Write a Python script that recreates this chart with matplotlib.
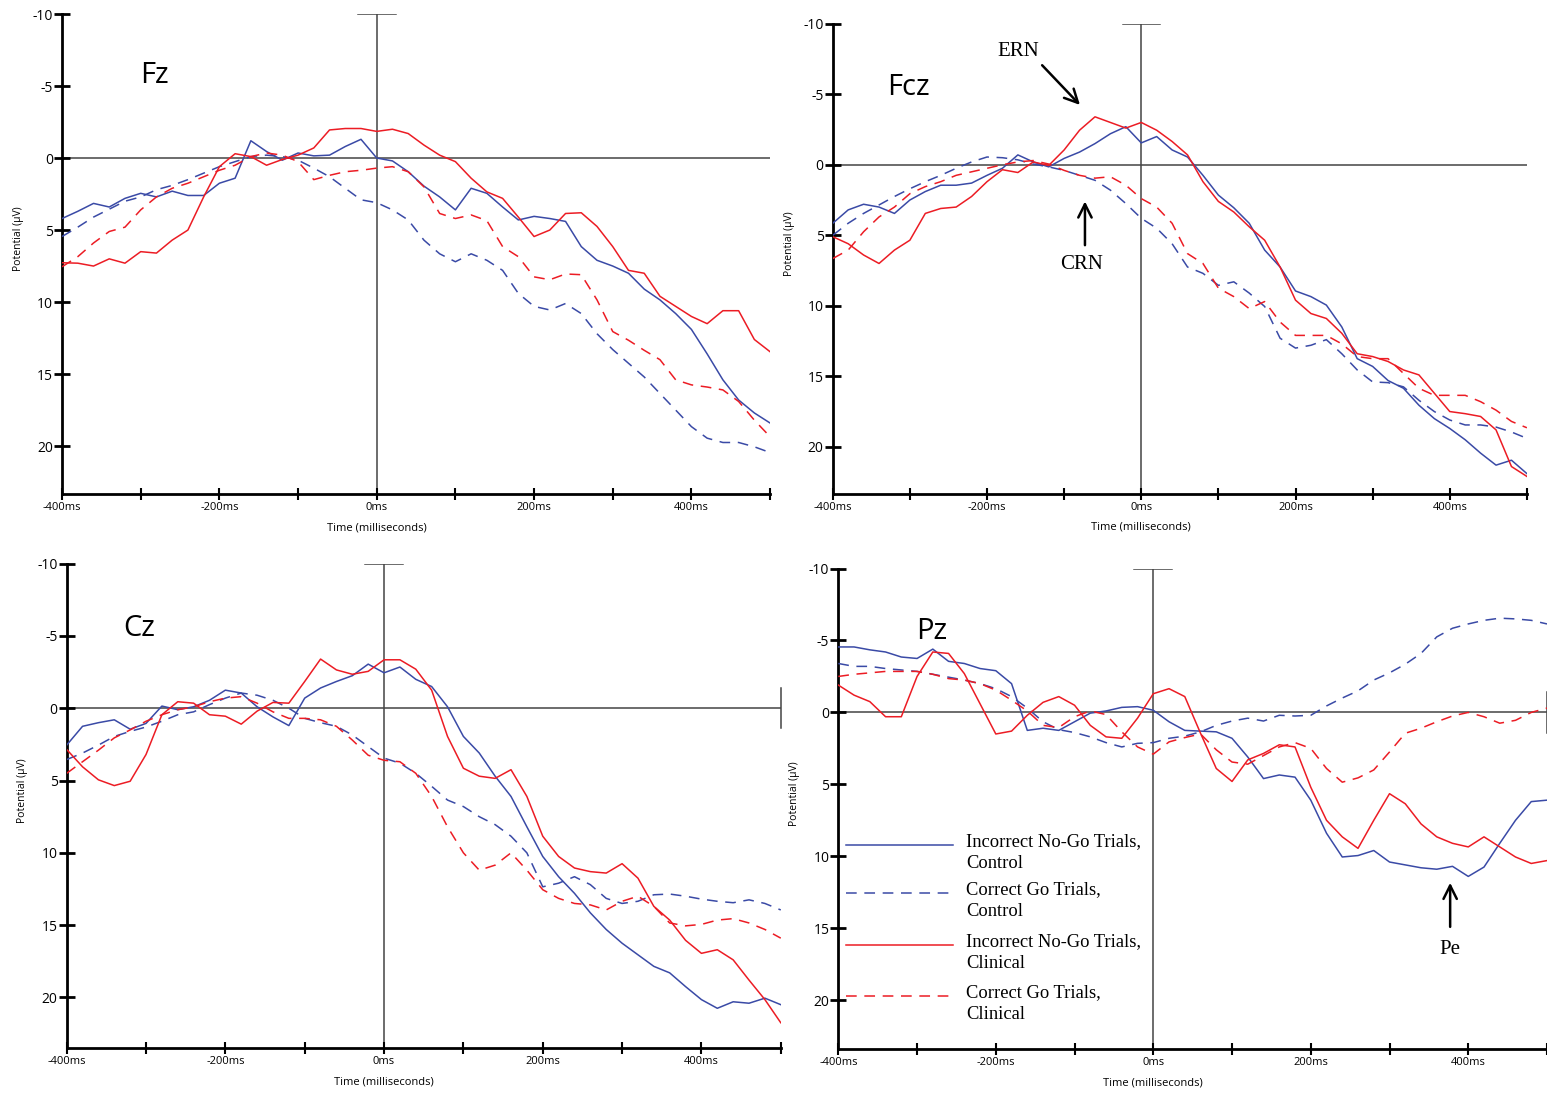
import matplotlib
matplotlib.use("Agg")
import matplotlib.pyplot as plt
from matplotlib.lines import Line2D

# time axis (ms), one value every 20 ms
times = list(range(-400, 520, 20))

# --- Fz ---
fz_inc_ctrl = [4.2, 3.7, 3.15, 3.4, 2.8, 2.45, 2.7, 2.3, 2.6, 2.6, 1.75, 1.4, -1.2, -0.45, 0.15, -0.35, -0.15, -0.2, -0.8, -1.3, 0.0,
               0.2, 0.95, 1.95, 2.7, 3.6, 2.1, 2.45, 3.4, 4.3, 4.05, 4.2, 4.4, 6.15, 7.1, 7.5, 8.0, 9.1, 9.85, 10.8, 11.9, 13.6, 15.4, 16.8, 17.7, 18.4]
fz_cor_ctrl = [5.45, 4.8, 4.1, 3.55, 3.0, 2.7, 2.2, 1.9, 1.5, 1.05, 0.6, 0.25, -0.1, -0.2, -0.1, 0.15, 0.7, 1.3, 2.1, 2.9, 3.1,
               3.6, 4.3, 5.7, 6.65, 7.2, 6.65, 7.1, 7.8, 9.4, 10.3, 10.55, 10.1, 10.8, 12.2, 13.3, 14.25, 15.2, 16.35, 17.5, 18.65, 19.45, 19.75, 19.75, 20.05, 20.45]
fz_inc_clin = [7.27, 7.3, 7.5, 7.0, 7.3, 6.5, 6.6, 5.7, 5.0, 2.7, 0.6, -0.3, -0.1, 0.5, 0.1, -0.2, -0.7, -1.95, -2.05, -2.05, -1.85,
               -2.0, -1.7, -0.9, -0.2, 0.25, 1.4, 2.35, 2.8, 4.1, 5.45, 5.0, 3.85, 3.8, 4.75, 6.15, 7.8, 8.0, 9.6, 10.3, 11.0, 11.5, 10.6, 10.6, 12.6, 13.45]
fz_cor_clin = [7.55, 6.85, 5.9, 5.1, 4.8, 3.6, 2.7, 2.1, 1.75, 1.3, 0.85, 0.5, -0.1, -0.35, -0.2, 0.25, 1.5, 1.2, 0.95, 0.85, 0.7,
               0.6, 0.95, 2.0, 3.85, 4.2, 3.95, 4.35, 6.15, 6.85, 8.25, 8.45, 8.05, 8.1, 9.85, 12.05, 12.65, 13.35, 14.0, 15.4, 15.75, 15.9, 16.1, 16.9, 18.2, 19.35]

# --- Fcz ---
fcz_inc_ctrl = [4.15, 3.2, 2.8, 3.0, 3.45, 2.5, 1.9, 1.45, 1.45, 1.3, 0.75, 0.25, -0.7, -0.2, 0.15, -0.45, -0.9, -1.5, -2.2, -2.7, -1.55,
                -2.0, -1.05, -0.55, 0.75, 2.15, 3.05, 4.15, 6.05, 7.25, 8.95, 9.35, 9.95, 11.5, 13.75, 14.3, 15.3, 15.85, 17.05, 18.0, 18.7, 19.5, 20.45, 21.3, 20.95, 21.9]
fcz_cor_ctrl = [5.0, 4.15, 3.45, 2.85, 2.25, 1.7, 1.2, 0.75, 0.25, -0.2, -0.55, -0.5, -0.35, -0.05, 0.15, 0.4, 0.75, 1.1, 1.8, 2.75, 3.8,
                4.5, 5.6, 7.25, 7.7, 8.55, 8.3, 9.1, 10.05, 12.3, 13.0, 12.8, 12.4, 13.4, 14.55, 15.4, 15.45, 15.75, 16.7, 17.5, 18.1, 18.45, 18.45, 18.6, 18.95, 19.4]
fcz_inc_clin = [5.1, 5.6, 6.4, 7.0, 6.05, 5.35, 3.45, 3.1, 3.0, 2.25, 1.2, 0.35, 0.55, -0.2, 0.05, -1.05, -2.45, -3.4, -3.0, -2.6, -3.0,
                -2.45, -1.65, -0.7, 1.2, 2.6, 3.35, 4.4, 5.35, 7.25, 9.6, 10.55, 10.9, 11.95, 13.4, 13.6, 13.95, 14.55, 14.9, 16.2, 17.5, 17.65, 17.85, 18.8, 21.4, 22.1]
fcz_cor_clin = [6.65, 6.05, 4.75, 3.7, 3.0, 2.05, 1.55, 1.2, 0.75, 0.5, 0.25, 0.0, -0.2, -0.3, -0.05, 0.4, 0.75, 0.95, 0.85, 1.45, 2.4,
                3.0, 4.15, 6.3, 7.0, 8.75, 9.35, 10.2, 9.7, 11.15, 12.1, 12.1, 12.1, 12.7, 13.6, 13.75, 13.75, 14.8, 15.85, 16.35, 16.35, 16.35, 16.8, 17.4, 18.2, 18.65]

# --- Cz ---
cz_inc_ctrl = [2.55, 1.25, 1.0, 0.8, 1.45, 1.05, -0.15, 0.1, -0.1, -0.55, -1.25, -1.05, -0.1, 0.6, 1.2, -0.7, -1.4, -1.85, -2.25, -3.05, -2.45,
               -2.85, -2.0, -1.5, -0.1, 1.95, 3.1, 4.7, 6.1, 8.2, 10.25, 11.65, 12.8, 14.15, 15.3, 16.25, 17.05, 17.85, 18.3, 19.25, 20.15, 20.75, 20.3, 20.4, 20.05, 20.5]
cz_cor_ctrl = [3.55, 3.1, 2.55, 1.95, 1.6, 1.3, 0.9, 0.45, 0.25, -0.25, -0.7, -1.05, -0.9, -0.55, 0.0, 0.7, 1.0, 1.25, 1.85, 2.65, 3.45,
               3.8, 4.5, 5.4, 6.35, 6.8, 7.5, 8.05, 8.85, 10.0, 12.35, 12.1, 11.65, 12.2, 13.15, 13.5, 13.35, 12.9, 12.85, 13.0, 13.2, 13.35, 13.45, 13.25, 13.5, 13.95]
cz_inc_clin = [2.85, 4.05, 4.95, 5.35, 5.05, 3.2, 0.45, -0.45, -0.35, 0.45, 0.55, 1.1, 0.2, -0.4, -0.35, -1.85, -3.4, -2.65, -2.35, -2.55, -3.35,
               -3.35, -2.7, -1.25, 1.95, 4.15, 4.7, 4.85, 4.25, 6.1, 8.85, 10.25, 11.05, 11.3, 11.4, 10.75, 11.75, 13.7, 14.65, 16.05, 16.95, 16.7, 17.4, 18.8, 20.15, 21.75]
cz_cor_clin = [4.5, 3.7, 2.9, 2.05, 1.5, 0.9, 0.45, 0.1, -0.1, -0.45, -0.7, -0.8, -0.35, 0.25, 0.7, 0.7, 0.8, 1.25, 2.2, 3.25, 3.6,
               3.7, 4.5, 6.1, 8.2, 10.0, 11.2, 10.85, 10.0, 11.2, 12.55, 13.15, 13.5, 13.6, 13.95, 13.35, 13.0, 13.7, 14.85, 15.05, 14.95, 14.65, 14.55, 14.85, 15.3, 15.9]

# --- Pz ---
pz_inc_ctrl = [-4.55, -4.55, -4.35, -4.2, -3.85, -3.75, -4.4, -3.55, -3.4, -3.05, -2.9, -2.0, 1.25, 1.1, 1.25, 0.65, 0.05, -0.1, -0.35, -0.4, -0.15,
               0.65, 1.25, 1.3, 1.35, 1.8, 3.1, 4.6, 4.35, 4.5, 6.1, 8.4, 10.05, 9.95, 9.6, 10.4, 10.6, 10.8, 10.9, 10.7, 11.4, 10.75, 9.1, 7.5, 6.2, 6.1]
pz_cor_ctrl = [-3.4, -3.2, -3.2, -3.05, -2.95, -2.85, -2.65, -2.45, -2.25, -2.0, -1.65, -1.1, -0.3, 0.65, 1.2, 1.4, 1.7, 2.1, 2.4, 2.15, 2.1,
               1.8, 1.65, 1.35, 0.9, 0.6, 0.4, 0.6, 0.2, 0.25, 0.2, -0.45, -1.0, -1.5, -2.25, -2.75, -3.35, -4.1, -5.25, -5.85, -6.15, -6.4, -6.55, -6.5, -6.4, -6.15]
pz_inc_clin = [-1.9, -1.2, -0.75, 0.3, 0.3, -2.5, -4.2, -4.1, -2.7, -0.6, 1.5, 1.3, 0.2, -0.7, -1.1, -0.5, 0.9, 1.7, 1.8, 0.4, -1.3,
               -1.65, -1.1, 1.45, 3.9, 4.8, 3.3, 2.85, 2.25, 2.4, 5.2, 7.5, 8.65, 9.45, 7.5, 5.65, 6.35, 7.75, 8.65, 9.1, 9.35, 8.65, 9.35, 10.05, 10.5, 10.3]
pz_cor_clin = [-2.5, -2.65, -2.75, -2.85, -2.85, -2.85, -2.65, -2.35, -2.25, -2.0, -1.55, -0.85, -0.1, 0.9, 1.05, 0.3, -0.1, 0.15, 1.35, 2.4, 2.9,
               2.05, 1.75, 1.5, 2.6, 3.45, 3.6, 3.0, 2.4, 2.1, 2.5, 3.9, 4.85, 4.55, 4.0, 2.75, 1.45, 1.1, 0.65, 0.25, 0.0, 0.3, 0.75, 0.55, 0.0, -0.3]

legend_labels = ["Incorrect No-Go Trials,\nControl", "Correct Go Trials,\nControl",
                 "Incorrect No-Go Trials,\nClinical", "Correct Go Trials,\nClinical"]

BLUE = "#3a4aa6"
RED = "#ec1c24"
AXIS_GREY = "#444444"
SERIF = "Liberation Serif"
DASH = (0, (7, 5))

plt.rcParams["font.family"] = ["Open Sans", "DejaVu Sans"]
plt.rcParams["axes.unicode_minus"] = False

fig = plt.figure(figsize=(15.47, 10.94), dpi=100)


def draw_panel(rect, name, data, ylow, name_pos, end_bar=False):
    ax = fig.add_axes(rect)
    ax.set_xlim(-400, 500)
    ax.set_ylim(ylow, -10)

    # baseline and stimulus marker
    ax.axhline(0, color=AXIS_GREY, lw=1.1, zorder=1)
    ax.plot([0, 0], [-10, ylow], color=AXIS_GREY, lw=1.1, zorder=1)
    ax.plot([-24, 24], [-10, -10], color=AXIS_GREY, lw=1.1, zorder=1)
    if end_bar:
        ax.plot([500, 500], [-1.4, 1.4], color=AXIS_GREY, lw=1.1, clip_on=False)

    styles = [(BLUE, "-"), (BLUE, DASH), (RED, "-"), (RED, DASH)]
    for vals, (color, ls) in zip(data, styles):
        ax.plot(times, vals, color=color, lw=1.1, linestyle=ls, zorder=3)

    for side in ["top", "right"]:
        ax.spines[side].set_visible(False)
    for side in ["left", "bottom"]:
        ax.spines[side].set_linewidth(2)

    ax.set_yticks([-10, -5, 0, 5, 10, 15, 20])
    ax.set_xticks(list(range(-400, 501, 100)))
    ax.set_xticklabels([f"{t}ms" if t % 200 == 0 else "" for t in range(-400, 501, 100)])
    ax.tick_params(axis="y", direction="inout", length=11, width=2, labelsize=10, pad=1)
    ax.tick_params(axis="x", direction="inout", length=8, width=1.5, labelsize=8, pad=2)

    ax.text(0, -0.07, "Time (milliseconds)", transform=ax.get_xaxis_transform(),
            ha="center", va="center", fontsize=8)
    ax.text(-0.062, 0.532, "Potential (\u00b5V)", transform=ax.transAxes, rotation=90,
            ha="center", va="center", fontsize=7.5)
    ax.text(name_pos[0], name_pos[1], name, fontsize=21, ha="center", va="center")
    return ax


ax1 = draw_panel([0.0401, 0.5484, 0.4577, 0.4388], "Fz",
                 [fz_inc_ctrl, fz_cor_ctrl, fz_inc_clin, fz_cor_clin], 23.33, (-282, -5.7))
ax2 = draw_panel([0.5383, 0.5484, 0.4487, 0.4299], "Fcz",
                 [fcz_inc_ctrl, fcz_cor_ctrl, fcz_inc_clin, fcz_cor_clin], 23.35, (-302, -5.45))
ax3 = draw_panel([0.0431, 0.0420, 0.4616, 0.4428], "Cz",
                 [cz_inc_ctrl, cz_cor_ctrl, cz_inc_clin, cz_cor_clin], 23.5, (-308, -5.5), end_bar=True)
ax4 = draw_panel([0.5419, 0.0411, 0.4581, 0.4392], "Pz",
                 [pz_inc_ctrl, pz_cor_ctrl, pz_inc_clin, pz_cor_clin], 23.4, (-281, -5.6), end_bar=True)

# ERN / CRN annotations on Fcz
arrow = dict(arrowstyle="->", lw=1.8, color="black", mutation_scale=24)
ax2.text(-160, -8.05, "ERN", family=SERIF, fontsize=15, ha="center", va="center")
ax2.annotate("", xy=(-77, -4.1), xytext=(-131, -7.2), arrowprops=arrow)
ax2.text(-77, 7.1, "CRN", family=SERIF, fontsize=15, ha="center", va="center")
ax2.annotate("", xy=(-73, 2.4), xytext=(-73, 5.9), arrowprops=arrow)

# Pe annotation on Pz
ax4.text(377, 16.5, "Pe", family=SERIF, fontsize=15, ha="center", va="center")
ax4.annotate("", xy=(377, 11.65), xytext=(377, 15.1), arrowprops=arrow)

# legend drawn by hand so the key line sits on the first text row
key_y = [0.4247, 0.3247, 0.2165, 0.1103]
key_styles = [(BLUE, "-"), (BLUE, DASH), (RED, "-"), (RED, DASH)]
for y, (color, ls), label in zip(key_y, key_styles, legend_labels):
    ax4.add_line(Line2D([0.011, 0.162], [y, y], transform=ax4.transAxes,
                        color=color, lw=1.1, linestyle=ls))
    ax4.text(0.180, y + 0.024, label, transform=ax4.transAxes, family=SERIF,
             fontsize=13.3, ha="left", va="top", linespacing=1.32)

fig.savefig("out.png", dpi=100)
